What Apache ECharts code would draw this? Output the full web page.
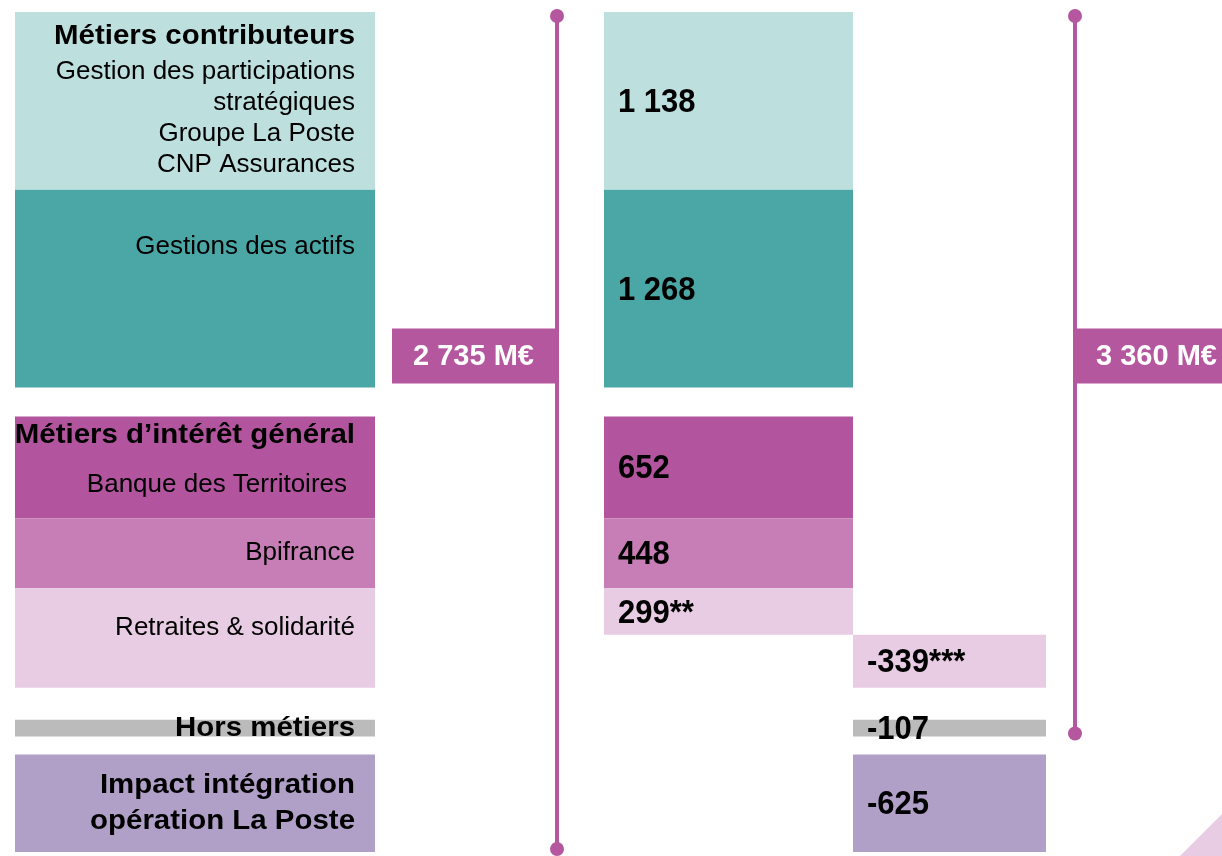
<!DOCTYPE html>
<html>
<head>
<meta charset="utf-8">
<script src="https://cdn.jsdelivr.net/npm/echarts@6/dist/echarts.min.js"></script>
<style>
  html, body { margin: 0; padding: 0; background: #fff; }
  #chart { width: 1222px; height: 856px; }
</style>
</head>
<body>
<div id="chart"></div>
<script>
// contribution of each business line (M€), top to bottom
const rowValues = [1138, 1268, 652, 448, 299, -339, -107, -625];
const rowLabels = ['1 138', '1 268', '652', '448', '299**', '-339***', '-107', '-625'];

// left boxes: rows covered, heading and detail lines
const boxRows = [[0, 0], [1, 1], [2, 2], [3, 3], [4, 5], [6, 6], [7, 7]];
const boxHeads = ['Métiers contributeurs', '', 'Métiers d’intérêt général', '', '', 'Hors métiers', 'Impact intégration\nopération La Poste'];
const boxItems = ['Gestion des participations\nstratégiques\nGroupe La Poste\nCNP Assurances', 'Gestions des actifs', 'Banque des Territoires', 'Bpifrance', 'Retraites & solidarité', '', ''];

// totals
const totalValues = [2735, 3360];
const totalLabels = ['2 735 M€', '3 360 M€'];

// styles / layout
const rowColors = ['#bde0df', '#4ba7a6', '#b2559e', '#c77db5', '#e8cce3', '#e8cce3', '#bbbbbb', '#b0a0c8'];
const boxColors = ['#bde0df', '#4ba7a6', '#b2559e', '#c77db5', '#e8cce3', '#bbbbbb', '#b0a0c8'];
const gapUnits = [0, 0, 185, 0, 0, 0, 205, 115];   // white space before a row, in axis units
const headOffset = [25, null, 19, null, null, 'mid', 'mid'];
const itemOffset = [60, 57, 68, 'mid', 40, null, null];
const itemIndent = [0, 0, 8, 0, 0, 0, 0];
const COL = { box: [15, 375], pos: [604, 853], neg: [853, 1046] };
const totalX = [557, 1075];
const totalSide = [-1, 1];
const lineColor = '#b5579e';
const FONT = '"Liberation Sans", Arial, sans-serif';

// stack rows downward on the value axis
let pos = 0;
const rowStart = [], rowEnd = [];
rowValues.forEach((v, i) => {
  pos += gapUnits[i];
  rowStart.push(pos);
  pos += Math.abs(v);
  rowEnd.push(pos);
});
const topPx = 12, bottomPx = 852, H = 856;
const upp = pos / (bottomPx - topPx);
const yMin = -topPx * upp, yMax = pos + (H - bottomPx) * upp;

// where each total ends: row whose running sum matches it
let run = 0;
const running = rowValues.map(v => (run += v));
const totalEndRow = totalValues.map(t => {
  let best = 0;
  running.forEach((r, i) => { if (Math.abs(r - t) < Math.abs(running[best] - t)) best = i; });
  return best;
});

const textStyles = {
  h: { size: 27, weight: 'bold', lh: 36, sx: 1.09 },
  t: { size: 26, weight: 'normal', lh: 31, sx: 1 }
};

function renderBox(params, api) {
  const i = api.value(0);
  const r = boxRows[i];
  const p0 = api.coord([COL.box[0], rowStart[r[0]]]);
  const p1 = api.coord([COL.box[1], rowEnd[r[1]]]);
  const children = [{
    type: 'rect',
    shape: { x: p0[0], y: p0[1], width: p1[0] - p0[0], height: p1[1] - p0[1] },
    style: { fill: boxColors[i] }
  }];
  const right = p1[0] - 20;
  const mid = (p0[1] + p1[1]) / 2;
  function addText(text, tag, off, indent) {
    if (!text || off === null) return;
    const s = textStyles[tag];
    const lines = text.split('\n');
    const y0 = off === 'mid' ? mid - (lines.length - 1) * s.lh / 2 : p0[1] + off;
    lines.forEach((line, k) => {
      children.push({
        type: 'text',
        x: right - indent, y: y0 + k * s.lh,
        scaleX: s.sx,
        style: {
          text: line, fontFamily: FONT, fontSize: s.size, fontWeight: s.weight,
          fill: '#000', align: 'right', verticalAlign: 'middle'
        }
      });
    });
  }
  addText(boxHeads[i], 'h', headOffset[i], 0);
  addText(boxItems[i], 't', itemOffset[i], itemIndent[i]);
  return { type: 'group', children: children };
}

function renderRow(params, api) {
  const i = api.value(0);
  const v = rowValues[i];
  const col = v >= 0 ? COL.pos : COL.neg;
  const p0 = api.coord([col[0], rowStart[i]]);
  const p1 = api.coord([col[1], rowEnd[i]]);
  return {
    type: 'group',
    children: [{
      type: 'rect',
      shape: { x: p0[0], y: p0[1], width: p1[0] - p0[0], height: p1[1] - p0[1] },
      style: { fill: rowColors[i] }
    }, {
      type: 'text',
      x: p0[0] + 14, y: (p0[1] + p1[1]) / 2 + 2,
      scaleX: 0.94,
      style: {
        text: rowLabels[i], fontFamily: FONT, fontWeight: 'bold', fontSize: 33,
        fill: '#000', align: 'left', verticalAlign: 'middle'
      }
    }]
  };
}

function renderTotal(params, api) {
  const i = api.value(0);
  const x = totalX[i];
  const yTop = api.coord([x, 0])[1] + 4;
  const yBot = api.coord([x, rowEnd[totalEndRow[i]]])[1] - 3;
  const boxBottom = api.coord([x, rowEnd[1]])[1] - 4;
  const bw = 163, bh = 55;
  const bx = totalSide[i] < 0 ? x - 2 - bw : x;
  return {
    type: 'group',
    children: [{
      type: 'line',
      shape: { x1: x, y1: yTop, x2: x, y2: yBot },
      style: { stroke: lineColor, lineWidth: 4 }
    }, {
      type: 'circle', shape: { cx: x, cy: yTop, r: 7 }, style: { fill: lineColor }
    }, {
      type: 'circle', shape: { cx: x, cy: yBot, r: 7 }, style: { fill: lineColor }
    }, {
      type: 'rect',
      shape: { x: bx, y: boxBottom - bh, width: bw, height: bh },
      style: { fill: lineColor }
    }, {
      type: 'text',
      x: bx + bw / 2, y: boxBottom - bh / 2 + 1,
      style: {
        text: totalLabels[i], fontFamily: FONT, fontWeight: 'bold', fontSize: 29,
        fill: '#fff', align: 'center', verticalAlign: 'middle'
      }
    }]
  };
}

const chart = echarts.init(document.getElementById('chart'));
chart.setOption({
  animation: false,
  grid: { left: 0, right: 0, top: 0, bottom: 0 },
  xAxis: { type: 'value', min: 0, max: 1222, show: false },
  yAxis: { type: 'value', inverse: true, min: yMin, max: yMax, show: false },
  graphic: [{
    type: 'polygon',
    shape: { points: [[1180, 856], [1222, 814], [1222, 856]] },
    style: { fill: '#e8cce3' }
  }],
  series: [{
    name: 'boxes',
    type: 'custom',
    renderItem: renderBox,
    data: boxRows.map((r, i) => [i, rowStart[r[0]]])
  }, {
    name: 'rows',
    type: 'custom',
    renderItem: renderRow,
    data: rowValues.map((v, i) => [i, rowStart[i]])
  }, {
    name: 'totals',
    type: 'custom',
    renderItem: renderTotal,
    data: totalValues.map((t, i) => [i, 0])
  }]
});
</script>
</body>
</html>
